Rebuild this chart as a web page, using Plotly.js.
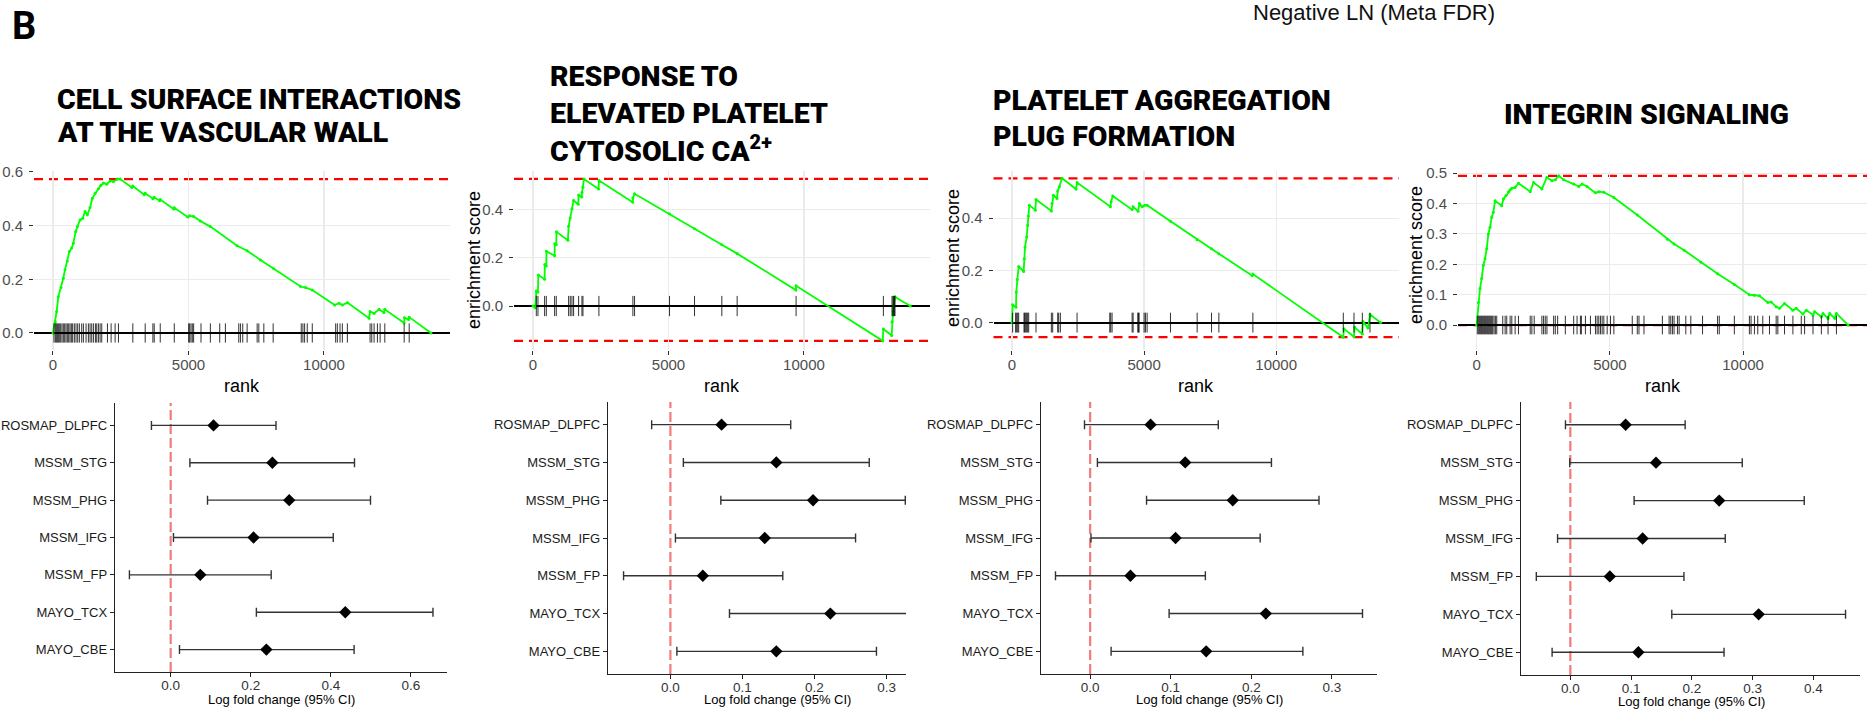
<!DOCTYPE html>
<html>
<head>
<meta charset="utf-8">
<script src="https://cdn.plot.ly/plotly-3.0.1.min.js"></script>
<style>
  html, body { margin: 0; padding: 0; background: #ffffff; }
  #fig { width: 1868px; height: 709px; }
</style>
</head>
<body>
<div id="fig"></div>
<script>
// ---------- Pathway titles ----------
const pathwayTitles = [
  ["CELL SURFACE INTERACTIONS", "AT THE VASCULAR WALL"],
  ["RESPONSE TO", "ELEVATED PLATELET", "CYTOSOLIC CA<sup>2+</sup>"],
  ["PLATELET AGGREGATION", "PLUG FORMATION"],
  ["INTEGRIN SIGNALING"]
];

// ---------- Running enrichment score curves (rank, score) ----------
const cellSurfaceRank = [0, 86, 136, 197, 296, 382, 444, 530, 604, 690, 752, 838, 900, 999, 1097, 1184, 1270, 1369, 1455, 1554, 1677, 1763, 1862, 1985, 2108, 2232, 2380, 2478, 2910, 2947, 3366, 3403, 3687, 3736, 3933, 3958, 4451, 4476, 4969, 5043, 5191, 5438, 5808, 6794, 7164, 7657, 8150, 9137, 9322, 9568, 10394, 10555, 10678, 10863, 11664, 11701, 11849, 12034, 12210, 12244, 12959, 12971, 13120, 13144, 13950];
const cellSurfaceES = [0, 0.042, 0.080, 0.135, 0.169, 0.204, 0.235, 0.268, 0.303, 0.316, 0.334, 0.378, 0.396, 0.421, 0.427, 0.452, 0.440, 0.467, 0.502, 0.520, 0.537, 0.549, 0.558, 0.554, 0.566, 0.564, 0.573, 0.573, 0.542, 0.547, 0.515, 0.520, 0.500, 0.505, 0.492, 0.497, 0.462, 0.466, 0.432, 0.436, 0.434, 0.417, 0.396, 0.325, 0.306, 0.272, 0.239, 0.173, 0.169, 0.160, 0.104, 0.111, 0.104, 0.113, 0.055, 0.080, 0.073, 0.088, 0.076, 0.088, 0.037, 0.057, 0.050, 0.059, 0];
const cellSurfaceHits = [37, 86, 123, 160, 197, 234, 284, 333, 382, 432, 481, 530, 580, 629, 678, 727, 789, 851, 912, 974, 1060, 1122, 1221, 1307, 1369, 1430, 1492, 1566, 1615, 1677, 1739, 1800, 2010, 2145, 2293, 2417, 2947, 3403, 3687, 3736, 3958, 4476, 5006, 5043, 5092, 5142, 5191, 5462, 5808, 6153, 6362, 6855, 6917, 7003, 7164, 7534, 7596, 7781, 8125, 9161, 9223, 9285, 9383, 9568, 10431, 10493, 10592, 10678, 10863, 11701, 11763, 11849, 11972, 12071, 12244, 12959, 13144];

const calciumRank = [0, 86, 123, 184, 197, 430, 436, 492, 498, 799, 805, 860, 866, 1290, 1315, 1376, 1438, 1499, 1670, 1684, 1800, 1807, 1844, 1880, 2421, 2433, 3680, 3687, 3748, 5039, 5961, 6969, 7534, 9700, 9709, 12905, 12929, 13236, 13249, 13285, 13310, 13359, 13924];
const calciumES = [0, -0.007, 0.062, 0.058, 0.128, 0.111, 0.172, 0.166, 0.227, 0.208, 0.258, 0.254, 0.307, 0.272, 0.330, 0.364, 0.403, 0.437, 0.421, 0.460, 0.451, 0.470, 0.492, 0.526, 0.485, 0.520, 0.430, 0.447, 0.465, 0.382, 0.320, 0.254, 0.217, 0.066, 0.084, -0.144, -0.095, -0.122, -0.065, -0.023, 0.000, 0.038, 0];
const calciumHits = [123, 184, 430, 492, 799, 860, 1315, 1376, 1438, 1499, 1684, 1807, 1844, 2433, 3687, 3748, 5039, 5961, 6969, 7534, 9709, 12929, 13249, 13285, 13310, 13335, 13359];

const plugRank = [0, 25, 152, 164, 202, 253, 442, 467, 493, 556, 594, 619, 657, 884, 909, 1490, 1516, 1566, 1705, 1730, 1793, 1894, 2425, 2463, 3726, 3751, 3814, 4547, 4585, 4774, 4825, 4926, 5027, 5115, 6000, 7010, 7553, 7831, 9094, 9119, 12541, 12566, 12945, 12971, 13262, 13287, 13476, 13552, 13956];
const plugES = [0, 0.068, 0.059, 0.117, 0.165, 0.215, 0.196, 0.245, 0.290, 0.328, 0.373, 0.409, 0.450, 0.431, 0.472, 0.428, 0.456, 0.488, 0.476, 0.504, 0.521, 0.553, 0.512, 0.537, 0.444, 0.463, 0.485, 0.433, 0.444, 0.427, 0.456, 0.444, 0.450, 0.450, 0.388, 0.318, 0.283, 0.264, 0.180, 0.186, -0.056, -0.024, -0.054, -0.018, -0.044, 0.004, -0.021, 0.031, 0];
const plugHits = [25, 139, 164, 215, 253, 455, 480, 518, 556, 594, 632, 909, 1490, 1541, 1730, 1768, 1831, 2463, 3701, 3738, 3789, 4547, 4585, 4762, 4787, 4812, 5001, 5052, 5115, 5999, 7010, 7553, 7831, 9119, 12542, 12946, 13262, 13552];

const integrinRank = [0, 63, 126, 188, 251, 314, 377, 440, 502, 565, 628, 691, 942, 1005, 1105, 1193, 1256, 1319, 1444, 1570, 2010, 2135, 2449, 2637, 2826, 2952, 3077, 3266, 3642, 3831, 3956, 4144, 4458, 4584, 4773, 5150, 6029, 7159, 7410, 7787, 8415, 9043, 9671, 10236, 10424, 10613, 10927, 11053, 11241, 11367, 11555, 11869, 11995, 12246, 12372, 12623, 12686, 12937, 12999, 13188, 13251, 13439, 13502, 13942];
const integrinES = [0, 0.074, 0.120, 0.153, 0.197, 0.218, 0.251, 0.300, 0.322, 0.355, 0.371, 0.409, 0.393, 0.415, 0.426, 0.439, 0.445, 0.450, 0.453, 0.467, 0.439, 0.469, 0.448, 0.486, 0.475, 0.478, 0.491, 0.478, 0.464, 0.456, 0.464, 0.456, 0.435, 0.439, 0.437, 0.420, 0.362, 0.282, 0.267, 0.246, 0.207, 0.169, 0.133, 0.100, 0.098, 0.096, 0.074, 0.076, 0.060, 0.055, 0.071, 0.049, 0.055, 0.036, 0.049, 0.033, 0.044, 0.027, 0.038, 0.022, 0.038, 0.022, 0.038, 0];
const integrinHits = [25, 75, 113, 151, 188, 226, 264, 301, 339, 377, 414, 452, 490, 528, 565, 603, 653, 703, 754, 980, 1068, 1130, 1256, 1319, 1444, 1570, 2010, 2072, 2160, 2449, 2512, 2575, 2638, 2889, 2952, 3040, 3328, 3642, 3768, 3894, 3931, 4082, 4270, 4459, 4522, 4584, 4647, 4710, 4773, 4898, 5024, 5150, 5840, 6029, 6092, 6280, 6971, 7222, 7285, 7348, 7410, 7536, 7599, 7850, 8038, 8478, 9043, 9106, 9671, 10236, 10299, 10425, 10550, 10739, 10990, 11241, 11304, 11555, 11869, 12183, 12309, 12623, 12937, 13188, 13502];

// ---------- Per-cohort log fold change with 95% CI ----------
const cohorts = ["ROSMAP_DLPFC", "MSSM_STG", "MSSM_PHG", "MSSM_IFG", "MSSM_FP", "MAYO_TCX", "MAYO_CBE"];

const cellSurfaceLFC   = [0.107, 0.254, 0.296, 0.207, 0.074, 0.436, 0.239];
const cellSurfaceLower = [-0.048, 0.048, 0.092, 0.007, -0.103, 0.214, 0.022];
const cellSurfaceUpper = [0.263, 0.459, 0.499, 0.406, 0.251, 0.655, 0.458];

const calciumLFC   = [0.071, 0.147, 0.198, 0.131, 0.045, 0.222, 0.147];
const calciumLower = [-0.026, 0.018, 0.070, 0.007, -0.065, 0.082, 0.009];
const calciumUpper = [0.167, 0.276, 0.326, 0.257, 0.156, 0.361, 0.286];

const plugLFC   = [0.075, 0.118, 0.177, 0.106, 0.050, 0.218, 0.144];
const plugLower = [-0.007, 0.009, 0.070, 0.001, -0.043, 0.098, 0.026];
const plugUpper = [0.159, 0.225, 0.284, 0.211, 0.143, 0.338, 0.264];

const integrinLFC   = [0.091, 0.141, 0.245, 0.119, 0.065, 0.310, 0.112];
const integrinLower = [-0.008, -0.001, 0.105, -0.021, -0.056, 0.167, -0.030];
const integrinUpper = [0.189, 0.283, 0.385, 0.255, 0.187, 0.453, 0.253];

// ---------- Layout helpers (pixel -> paper) ----------
const W = 1868, H = 709;
const fx = px => px / W;
const fy = py => 1 - py / H;

const SANS = "Liberation Sans, Arial, Helvetica, sans-serif";
const TITLE_FONT = "Roboto, Inter, sans-serif";

const gsea = [
  { rank: cellSurfaceRank, es: cellSurfaceES, hits: cellSurfaceHits, xdom: [34, 450],    yrange: [-0.0633, 0.603], dtick: 0.2 },
  { rank: calciumRank,     es: calciumES,     hits: calciumHits,     xdom: [514, 930],   yrange: [-0.182, 0.559],  dtick: 0.2 },
  { rank: plugRank,        es: plugES,        hits: plugHits,        xdom: [993.5, 1399], yrange: [-0.105, 0.581], dtick: 0.2 },
  { rank: integrinRank,    es: integrinES,    hits: integrinHits,    xdom: [1458, 1867], yrange: [-0.0822, 0.507], dtick: 0.1 }
];
const gseaYdom = [171, 350];
const rankRange = [-700, 14650];

const forest = [
  { est: cellSurfaceLFC, lo: cellSurfaceLower, hi: cellSurfaceUpper, xdom: [115, 447],  ydom: [403, 672], xrange: [-0.139, 0.69],  dtick: 0.2 },
  { est: calciumLFC,     lo: calciumLower,     hi: calciumUpper,     xdom: [608, 906],  ydom: [402, 674], xrange: [-0.0866, 0.327], dtick: 0.1 },
  { est: plugLFC,        lo: plugLower,        hi: plugUpper,        xdom: [1041, 1377], ydom: [402, 674], xrange: [-0.061, 0.356], dtick: 0.1 },
  { est: integrinLFC,    lo: integrinLower,    hi: integrinUpper,    xdom: [1521, 1860], ydom: [402, 675], xrange: [-0.0812, 0.4768], dtick: 0.1 }
];

const traces = [];
const shapes = [];
const layout = {
  width: W, height: H,
  margin: { l: 0, r: 0, t: 0, b: 0 },
  paper_bgcolor: "#ffffff",
  plot_bgcolor: "#ffffff",
  showlegend: false,
  font: { family: SANS, color: "#000000" },
  annotations: []
};

// ---------- GSEA enrichment panels ----------
gsea.forEach((p, i) => {
  const n = i + 1;
  const sx = n === 1 ? "" : String(n);
  const xa = "x" + sx, ya = "y" + sx;
  const top = Math.max(...p.es), bottom = Math.min(...p.es);
  const half = (top - bottom) / 16;

  traces.push({
    type: "scatter", mode: "lines+markers", x: p.rank, y: p.es,
    xaxis: xa, yaxis: ya, hoverinfo: "skip",
    line: { color: "#00FF00", width: 1.8 },
    marker: { color: "#00FF00", size: 3 }
  });
  const hx = [], hy = [];
  p.hits.forEach(h => { hx.push(h, h, null); hy.push(-half, half, null); });
  traces.push({
    type: "scatter", mode: "lines", x: hx, y: hy,
    xaxis: xa, yaxis: ya, hoverinfo: "skip",
    line: { color: "rgba(0,0,0,0.8)", width: 1 }
  });

  // dashed red guides at the maximum and minimum running score
  [top, bottom].forEach(v => shapes.push({
    type: "line", layer: "below", xref: xa + " domain", yref: ya,
    x0: 0, x1: 1, y0: v, y1: v,
    line: { color: "#FF0000", width: 2.2, dash: "9px,6px" }
  }));

  layout["xaxis" + sx] = {
    domain: [fx(p.xdom[0]), fx(p.xdom[1])], anchor: ya,
    range: rankRange, tick0: 0, dtick: 5000, tickformat: "d",
    ticks: "outside", ticklen: 4, tickwidth: 1, tickcolor: "#333333",
    ticklabelstandoff: -3,
    showgrid: true, gridcolor: "#EBEBEB", gridwidth: 1.2,
    zeroline: false, showline: false, fixedrange: true,
    tickfont: { family: SANS, size: 15, color: "#4D4D4D" }
  };
  layout["yaxis" + sx] = {
    domain: [fy(gseaYdom[1]), fy(gseaYdom[0])], anchor: xa,
    range: p.yrange, tick0: 0, dtick: p.dtick, tickformat: ".1f",
    ticks: "outside", ticklen: 4, tickwidth: 1, tickcolor: "#333333",
    ticklabelstandoff: 3,
    showgrid: true, gridcolor: "#EBEBEB", gridwidth: 1.2,
    zeroline: true, zerolinecolor: "#000000", zerolinewidth: 1.8,
    showline: false, fixedrange: true,
    tickfont: { family: SANS, size: 15, color: "#4D4D4D" }
  };

  // "rank" x-axis title under each panel
  layout.annotations.push({
    xref: "paper", yref: "paper", showarrow: false,
    x: fx((p.xdom[0] + p.xdom[1]) / 2), y: fy(386), xanchor: "center", yanchor: "middle",
    text: "rank", font: { family: SANS, size: 18, color: "#000000" }
  });
});

// y-axis titles (the first panel carries none)
[[474, 260], [953, 258], [1416, 255]].forEach(([px, py]) => layout.annotations.push({
  xref: "paper", yref: "paper", showarrow: false, textangle: -90,
  x: fx(px), y: fy(py), xanchor: "center", yanchor: "middle",
  text: "enrichment score", font: { family: SANS, size: 18, color: "#000000" }
}));

// ---------- Forest plots ----------
const cohortOrder = cohorts.slice().reverse();
forest.forEach((p, i) => {
  const n = i + 5;
  const xa = "x" + n, ya = "y" + n;
  traces.push({
    type: "scatter", mode: "markers", x: p.est, y: cohorts,
    xaxis: xa, yaxis: ya, hoverinfo: "skip",
    marker: { symbol: "diamond", size: 9.5, color: "#000000" },
    error_x: {
      type: "data", symmetric: false,
      array: p.hi.map((h, k) => h - p.est[k]),
      arrayminus: p.lo.map((l, k) => p.est[k] - l),
      color: "#333333", thickness: 1.4, width: 4.5
    }
  });
  shapes.push({
    type: "line", layer: "below", xref: xa, yref: ya + " domain",
    x0: 0, x1: 0, y0: 0, y1: 1,
    line: { color: "rgba(238,90,90,0.8)", width: 2.2, dash: "10px,4px" }
  });
  layout["xaxis" + n] = {
    domain: [fx(p.xdom[0]), fx(p.xdom[1])], anchor: ya,
    range: p.xrange, tick0: 0, dtick: p.dtick, tickformat: ".1f",
    ticks: "outside", ticklen: 4, tickwidth: 1, tickcolor: "#222222",
    ticklabelstandoff: -4,
    showline: true, linecolor: "#222222", linewidth: 1.3,
    showgrid: false, zeroline: false, fixedrange: true,
    tickfont: { family: SANS, size: 13.5, color: "#333333" }
  };
  layout["yaxis" + n] = {
    domain: [fy(p.ydom[1]), fy(p.ydom[0])], anchor: xa,
    type: "category", categoryorder: "array", categoryarray: cohortOrder,
    range: [-0.6, 6.6],
    ticks: "outside", ticklen: 4, tickwidth: 1, tickcolor: "#222222",
    showline: true, linecolor: "#222222", linewidth: 1.3,
    showgrid: false, zeroline: false, fixedrange: true,
    tickfont: { family: SANS, size: 13, color: "#1A1A1A" }
  };
});

[[281, 699], [777, 699], [1209, 699], [1691, 701]].forEach(([px, py]) => layout.annotations.push({
  xref: "paper", yref: "paper", showarrow: false,
  x: fx(px), y: fy(py), xanchor: "center", yanchor: "middle",
  text: "Log fold change (95% CI)", font: { family: SANS, size: 13, color: "#000000" }
}));

// ---------- Pathway titles ----------
const titleSpots = [
  { x: 57,   ys: [99, 132.5] },
  { x: 550,  ys: [76.5, 113.5, 148.5] },
  { x: 993,  ys: [100.5, 136.5] },
  { x: 1504, ys: [114.5] }
];
pathwayTitles.forEach((lines, i) => {
  lines.forEach((txt, k) => layout.annotations.push({
    xref: "paper", yref: "paper", showarrow: false,
    x: fx(titleSpots[i].x - 2), y: fy(titleSpots[i].ys[k]), xanchor: "left", yanchor: "middle",
    text: txt, font: { family: TITLE_FONT, size: 28.5, color: "#000000", weight: 900 }
  }));
});

// Panel letter and header
layout.annotations.push({
  xref: "paper", yref: "paper", showarrow: false,
  x: fx(9.5), y: fy(25.5), xanchor: "left", yanchor: "middle",
  text: "B", font: { family: TITLE_FONT, size: 38, color: "#000000", weight: 700 }
});
layout.annotations.push({
  xref: "paper", yref: "paper", showarrow: false,
  x: fx(1251), y: fy(13), xanchor: "left", yanchor: "middle",
  text: "Negative LN (Meta FDR)", font: { family: SANS, size: 22, color: "#111111" }
});

layout.shapes = shapes;

Plotly.newPlot("fig", traces, layout, { staticPlot: true, displayModeBar: false });
</script>
</body>
</html>
